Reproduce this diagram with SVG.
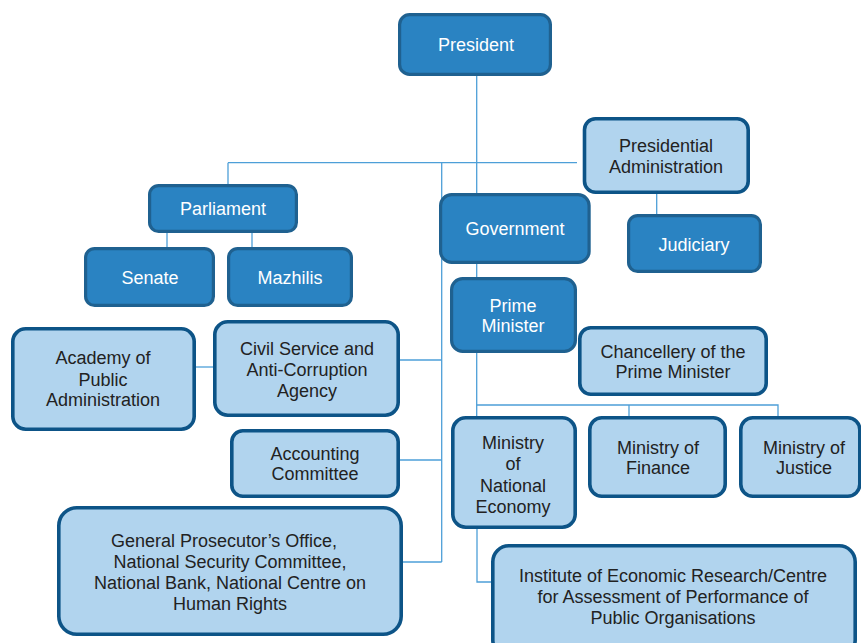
<svg xmlns="http://www.w3.org/2000/svg" width="861" height="643" viewBox="0 0 861 643">
<style>
.dk{fill:#2a83c2;stroke:#1f6190;stroke-width:3.2}
.lt{fill:#b1d4ee;stroke:#0d5487;stroke-width:3.6}
.tw{font-family:"Liberation Sans",Arial,sans-serif;font-size:18px;fill:#ffffff;text-anchor:middle}
.tb{font-family:"Liberation Sans",Arial,sans-serif;font-size:18px;fill:#222222;text-anchor:middle}
.cn{fill:none;stroke:#4d9fd8;stroke-width:1.3}
</style>
<rect width="861" height="643" fill="#ffffff"/>
<g id="connectors">
<path class="cn" d="M476.7 76V195"/>
<path class="cn" d="M228 162.7H577"/>
<path class="cn" d="M228 162.7V185"/>
<path class="cn" d="M441.7 162.7V562"/>
<path class="cn" d="M167 233V248"/>
<path class="cn" d="M252 233V248"/>
<path class="cn" d="M196 367H214"/>
<path class="cn" d="M400 360H441.7"/>
<path class="cn" d="M400 460H441.7"/>
<path class="cn" d="M403 562H441.7"/>
<path class="cn" d="M656.7 194V215"/>
<path class="cn" d="M476.7 263V278"/>
<path class="cn" d="M476.7 353V417"/>
<path class="cn" d="M476.7 405H778V417"/>
<path class="cn" d="M629 405V417"/>
<path class="cn" d="M477 529V582H492"/>
</g>
<g id="president"><rect class="dk" x="399.6" y="14.6" width="150.8" height="59.8" rx="10"/><text class="tw" x="476" y="51">President</text></g>
<g id="presidential-administration"><rect class="lt" x="584.5" y="118.8" width="163.7" height="73.4" rx="11"/><text class="tb" x="666" y="152">Presidential</text><text class="tb" x="666" y="172.5">Administration</text></g>
<g id="parliament"><rect class="dk" x="149.6" y="185.6" width="146.8" height="45.8" rx="9"/><text class="tw" x="223" y="214.5">Parliament</text></g>
<g id="government"><rect class="dk" x="440.6" y="194.6" width="148.5" height="67.8" rx="11"/><text class="tw" x="515" y="234.8">Government</text></g>
<g id="judiciary"><rect class="dk" x="628.6" y="215.6" width="131.8" height="55.8" rx="9"/><text class="tw" x="694" y="250.5">Judiciary</text></g>
<g id="senate"><rect class="dk" x="85.6" y="248.6" width="127.8" height="56.8" rx="9"/><text class="tw" x="150" y="284">Senate</text></g>
<g id="mazhilis"><rect class="dk" x="228.6" y="248.6" width="122.8" height="56.8" rx="9"/><text class="tw" x="290" y="284">Mazhilis</text></g>
<g id="prime-minister"><rect class="dk" x="451.6" y="278.6" width="123.8" height="72.8" rx="11"/><text class="tw" x="513" y="312">Prime</text><text class="tw" x="513" y="332">Minister</text></g>
<g id="chancellery"><rect class="lt" x="579.8" y="327.8" width="186.4" height="66.4" rx="11"/><text class="tb" x="673" y="358">Chancellery of the</text><text class="tb" x="673" y="378">Prime Minister</text></g>
<g id="academy"><rect class="lt" x="12.8" y="328.8" width="181.4" height="100.4" rx="13"/><text class="tb" x="103" y="364">Academy of</text><text class="tb" x="103" y="385.5">Public</text><text class="tb" x="103" y="405.5">Administration</text></g>
<g id="civil-service"><rect class="lt" x="214.8" y="321.8" width="183.4" height="93.4" rx="13"/><text class="tb" x="307" y="355.3">Civil Service and</text><text class="tb" x="307" y="376.3">Anti-Corruption</text><text class="tb" x="307" y="397">Agency</text></g>
<g id="accounting-committee"><rect class="lt" x="231.8" y="430.8" width="166.4" height="65.4" rx="11"/><text class="tb" x="315" y="460.3">Accounting</text><text class="tb" x="315" y="480.3">Committee</text></g>
<g id="ministry-national-economy"><rect class="lt" x="452.8" y="417.8" width="122.4" height="109.4" rx="13"/><text class="tb" x="513" y="449">Ministry</text><text class="tb" x="513" y="470.3">of</text><text class="tb" x="513" y="492">National</text><text class="tb" x="513" y="513.3">Economy</text></g>
<g id="ministry-finance"><rect class="lt" x="589.8" y="417.8" width="135.4" height="78.4" rx="12"/><text class="tb" x="658" y="454.3">Ministry of</text><text class="tb" x="658" y="474">Finance</text></g>
<g id="ministry-justice"><rect class="lt" x="740.8" y="417.8" width="119" height="78.4" rx="12"/><text class="tb" x="804" y="454.3">Ministry of</text><text class="tb" x="804" y="474">Justice</text></g>
<g id="general-prosecutor"><rect class="lt" x="58.8" y="507.8" width="342.4" height="126.4" rx="18"/><text class="tb" x="224" y="547">General Prosecutor’s Office,</text><text class="tb" x="230" y="568">National Security Committee,</text><text class="tb" x="230" y="589">National Bank, National Centre on</text><text class="tb" x="230" y="610">Human Rights</text></g>
<g id="institute"><rect class="lt" x="492.8" y="545.8" width="362.4" height="110" rx="16"/><text class="tb" x="673" y="582">Institute of Economic Research/Centre</text><text class="tb" x="673" y="603">for Assessment of Performance of</text><text class="tb" x="673" y="624">Public Organisations</text></g>
</svg>
